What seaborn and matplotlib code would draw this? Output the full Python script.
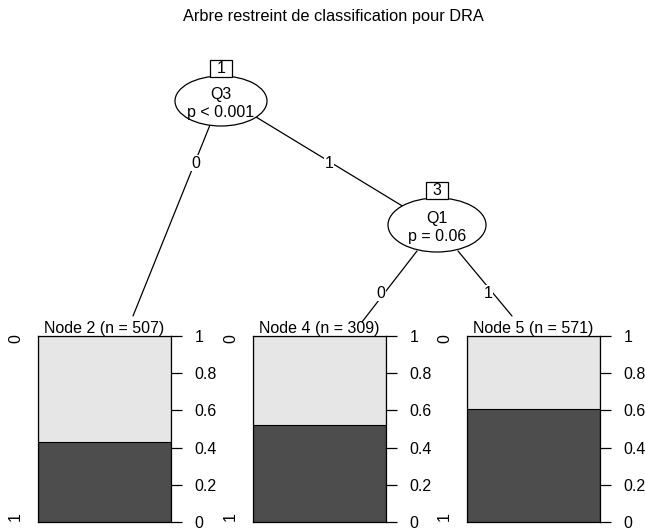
import matplotlib
matplotlib.use("Agg")
import matplotlib.pyplot as plt
from matplotlib.patches import Ellipse, Rectangle
import seaborn as sns
import pandas as pd

# ---- data ----
title = "Arbre restreint de classification pour DRA"
inner_ids = [1, 3]
inner_vars = ["Q3", "Q1"]
inner_pvals = ["p < 0.001", "p = 0.06"]
edge_labels = ["0", "1", "0", "1"]
terminal_ids = [2, 4, 5]
terminal_n = [507, 309, 571]
prop_class1 = [0.43, 0.52, 0.61]   # dark (class "1") share
class_levels = ["0", "1"]
tick_values = [0, 0.2, 0.4, 0.6, 0.8, 1]
tick_labels = ["0", "0.2", "0.4", "0.6", "0.8", "1"]

sns.set_theme(style="white")
plt.rcParams["font.family"] = ["Liberation Sans", "DejaVu Sans"]
plt.rcParams["text.color"] = "black"
plt.rcParams["axes.labelcolor"] = "black"
FS = 11.5
LIGHT, DARK = "#E6E6E6", "#4D4D4D"

W, H = 645, 531
fig = plt.figure(figsize=(W / 100, H / 100), dpi=100)
fig.patch.set_facecolor("white")
ax0 = fig.add_axes([0, 0, 1, 1])
ax0.set_xlim(0, W)
ax0.set_ylim(H, 0)
ax0.axis("off")

ax0.text(333, 16, title, ha="center", va="center", fontsize=11.8, color="black")

# ---- edges (pixel layout) ----
edges = [((210, 125), (133, 316), (196, 163)),
         ((256, 117), (404, 207), (329, 163)),
         ((417, 251), (362, 322), (381, 293)),
         ((458, 251), (512, 316), (488, 293))]
for (p0, p1, lp), lab in zip(edges, edge_labels):
    ax0.plot([p0[0], p1[0]], [p0[1], p1[1]], color="black", lw=0.9, zorder=1)
    ax0.text(lp[0], lp[1], lab, ha="center", va="center", fontsize=FS, zorder=3,
             color="black",
             bbox=dict(boxstyle="square,pad=0.05", fc="white", ec="none"))

# ---- inner nodes ----
inner_pos = [(221, 101, 92, 50), (437, 225, 98, 54)]
for (cx, cy, ew, eh), nid, var, pv in zip(inner_pos, inner_ids, inner_vars, inner_pvals):
    ax0.add_patch(Ellipse((cx, cy), ew, eh, fc="white", ec="black", lw=0.9, zorder=2))
    top = cy - eh / 2
    ax0.add_patch(Rectangle((cx - 11, top - 16), 22, 17, fc="white", ec="black",
                            lw=0.9, zorder=4))
    ax0.text(cx, top - 7.5, str(nid), ha="center", va="center", fontsize=FS,
             zorder=5, color="black")
    ax0.text(cx, cy - 6, var, ha="center", va="center", fontsize=FS, zorder=5,
             color="black")
    ax0.text(cx, cy + 11, pv, ha="center", va="center", fontsize=FS, zorder=5,
             color="black")

# ---- terminal nodes ----
box_left = [38, 253, 467]
box_w, box_top, box_bot = 133, 336, 522
for i, (nid, n, p1) in enumerate(zip(terminal_ids, terminal_n, prop_class1)):
    ax = fig.add_axes([box_left[i] / W, (H - box_bot) / H, box_w / W,
                       (box_bot - box_top) / H])
    df = pd.DataFrame({"x": [0, 0], "level": class_levels, "cum": [1.0, p1]})
    sns.barplot(data=df.iloc[[0]], x="x", y="cum", color=LIGHT, width=1,
                saturation=1, edgecolor="black", linewidth=0.8, ax=ax)
    sns.barplot(data=df.iloc[[1]], x="x", y="cum", color=DARK, width=1,
                saturation=1, edgecolor="black", linewidth=0.8, ax=ax)
    ax.set_xlim(-0.5, 0.5)
    ax.set_ylim(0, 1)
    ax.set_xlabel("")
    ax.set_ylabel("")
    ax.set_xticks([])
    ax.yaxis.tick_right()
    ax.set_yticks(tick_values)
    ax.set_yticklabels(tick_labels, fontsize=FS)
    ax.tick_params(axis="y", which="both", right=True, left=False, length=8,
                   width=0.9, pad=9, colors="black", direction="out")
    for s in ax.spines.values():
        s.set_visible(True)
        s.set_color("black")
        s.set_linewidth(0.9)
    ax.set_title(f"Node {nid} (n = {n})", fontsize=FS, pad=1, color="black")
    ax.text(-0.17, 0.985, class_levels[0], transform=ax.transAxes, rotation=90,
            ha="center", va="center", fontsize=FS, color="black")
    ax.text(-0.17, 0.03, class_levels[1], transform=ax.transAxes, rotation=90,
            ha="center", va="center", fontsize=FS, color="black")

fig.savefig("out.png", dpi=100, facecolor="white")
